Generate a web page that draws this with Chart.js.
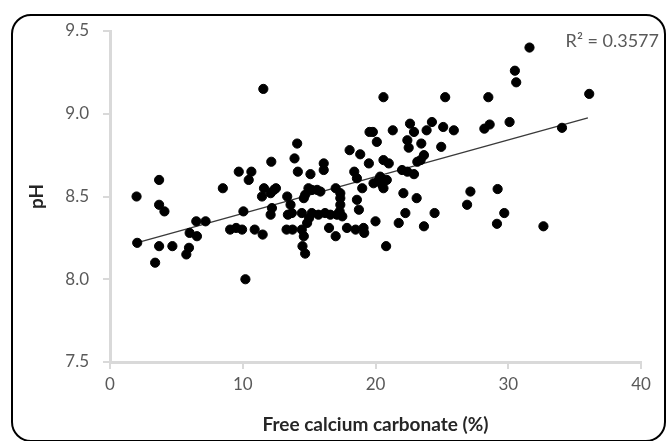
<!DOCTYPE html>
<html>
<head>
<meta charset="utf-8">
<script src="https://cdn.jsdelivr.net/npm/chart.js@4.4.1/dist/chart.umd.min.js"></script>
<style>
  html, body { margin: 0; padding: 0; background: #fff; }
  #wrap { position: relative; width: 668px; height: 441px; overflow: hidden; }
  #frame {
    position: absolute; left: 11px; top: 14px; width: 651px; height: 424px;
    border: 2px solid #000; border-radius: 20px; pointer-events: none;
  }
  canvas { position: absolute; left: 0; top: 0; }
</style>
</head>
<body>
<div id="wrap">
  <div id="frame"></div>
  <canvas id="chart-scatter" width="668" height="441"></canvas>
</div>
<script>
// free calcium carbonate (%) and pH
const carbonate = [
  2.0, 2.05, 3.4, 3.7, 3.7, 4.1, 3.7, 4.7, 6.0, 5.95, 5.75, 6.5, 6.55, 7.2,
  8.5, 9.05, 9.5, 9.95, 9.7, 10.05, 10.2, 10.45, 10.65, 10.9, 11.5, 11.55, 12.15,
  11.45, 11.6, 12.1, 12.35, 12.5, 12.1, 12.2,
  13.35, 13.6, 13.7, 13.4, 13.9, 14.1, 14.15, 14.45, 14.6, 14.7, 14.95, 15.2, 15.6, 15.85,
  15.1, 16.1, 16.1, 15.0, 14.85, 15.2, 15.7, 16.2, 16.6, 17.1, 17.5,
  13.3, 13.75, 14.45, 14.6, 14.5, 14.7, 16.5, 17.0,
  17.0, 17.35, 17.35, 17.35, 17.3, 17.85, 18.5, 19.1, 19.15,
  18.05, 18.85, 18.4, 18.6, 19.0, 18.6, 18.75,
  19.55, 19.5, 19.85, 20.1, 19.8, 20.6, 21.3, 20.6, 21.0,
  20.35, 20.25, 20.85, 20.5, 20.6, 20.0, 20.8, 21.75, 22.1, 22.25, 23.1, 23.65, 24.45,
  22.0, 22.4, 22.9, 23.15, 23.4, 23.65, 22.4, 22.5, 23.45, 24.95,
  22.6, 22.9, 23.85, 24.25, 25.1, 25.9, 25.25,
  27.15, 26.9, 28.5, 28.2, 28.6, 30.1, 30.5, 30.6, 31.6, 36.1, 34.05,
  29.2, 29.7, 29.15, 32.65
];
const pH = [
  8.50, 8.22, 8.10, 8.60, 8.45, 8.41, 8.20, 8.20, 8.28, 8.19, 8.15, 8.35, 8.26, 8.35,
  8.55, 8.30, 8.31, 8.30, 8.65, 8.41, 8.00, 8.60, 8.65, 8.30, 8.27, 9.15, 8.71,
  8.50, 8.55, 8.52, 8.54, 8.55, 8.39, 8.43,
  8.50, 8.45, 8.40, 8.39, 8.73, 8.82, 8.65, 8.40, 8.49, 8.51, 8.55, 8.54, 8.54, 8.53,
  8.635, 8.70, 8.66, 8.37, 8.34, 8.40, 8.39, 8.40, 8.39, 8.39, 8.38,
  8.30, 8.30, 8.30, 8.26, 8.20, 8.155, 8.31, 8.26,
  8.55, 8.52, 8.49, 8.45, 8.41, 8.31, 8.30, 8.31, 8.28,
  8.78, 8.755, 8.65, 8.61, 8.55, 8.48, 8.42,
  8.89, 8.70, 8.58, 8.83, 8.89, 9.10, 8.90, 8.72, 8.70,
  8.62, 8.60, 8.60, 8.57, 8.55, 8.35, 8.20, 8.34, 8.52, 8.40, 8.49, 8.32, 8.40,
  8.66, 8.65, 8.635, 8.71, 8.72, 8.75, 8.84, 8.795, 8.82, 8.80,
  8.94, 8.89, 8.90, 8.95, 8.92, 8.90, 9.10,
  8.53, 8.45, 9.10, 8.91, 8.935, 8.95, 9.26, 9.19, 9.40, 9.12, 8.915,
  8.545, 8.40, 8.335, 8.32
];
// linear trendline ends, as drawn
const trendX = [2, 36];
const trendY = [8.22, 8.975];
const rSquared = 'R\u00b2 = 0.3577';

const xTicks = [0, 10, 20, 30, 40];
const yTicks = [7.5, 8.0, 8.5, 9.0, 9.5];

const points = carbonate.map((x, i) => ({x: x, y: pH[i]}));
const trend = trendX.map((x, i) => ({x: x, y: trendY[i]}));

const gray = '#595959';
const axisGray = '#d9d9d9';
const font = 'Lato, "Open Sans", sans-serif';

// R squared label at the top right
const rLabel = {
  id: 'rLabel',
  afterDraw(chart) {
    const ctx = chart.ctx;
    const area = chart.chartArea;
    ctx.save();
    ctx.font = '18px ' + font;
    ctx.fillStyle = gray;
    ctx.textAlign = 'right';
    ctx.textBaseline = 'middle';
    ctx.fillText(rSquared, area.right + 18, area.top + 10);
    ctx.restore();
  }
};

const ctx = document.getElementById('chart-scatter').getContext('2d');
new Chart(ctx, {
  type: 'scatter',
  data: {
    datasets: [
      {
        label: 'pH',
        data: points,
        backgroundColor: '#000',
        borderColor: '#000',
        pointRadius: 4.6,
        pointHoverRadius: 4.6
      },
      {
        type: 'line',
        label: 'Linear',
        data: trend,
        borderColor: '#3a3a3a',
        borderWidth: 1.4,
        pointRadius: 0,
        fill: false
      }
    ]
  },
  plugins: [rLabel],
  options: {
    responsive: false,
    animation: false,
    layout: {
      padding: {left: 0, top: 31, right: 27, bottom: 0}
    },
    plugins: {
      legend: {display: false},
      tooltip: {enabled: false}
    },
    scales: {
      x: {
        type: 'linear',
        min: 0,
        max: 40,
        afterBuildTicks: (scale) => { scale.ticks = xTicks.map(v => ({value: v})); },
        afterFit: (scale) => { scale.height = 79; },
        grid: {
          drawOnChartArea: false,
          drawTicks: true,
          tickLength: 7,
          color: axisGray,
          lineWidth: 2
        },
        border: {color: axisGray, width: 3},
        ticks: {
          color: gray,
          font: {family: font, size: 17},
          padding: 5
        },
        title: {
          display: true,
          text: 'Free calcium carbonate (%)',
          color: '#262626',
          font: {family: font, size: 19, weight: 'bold'},
          padding: {top: 0, bottom: 5}
        }
      },
      y: {
        type: 'linear',
        min: 7.5,
        max: 9.5,
        afterBuildTicks: (scale) => { scale.ticks = yTicks.map(v => ({value: v})); },
        afterFit: (scale) => { scale.width = 110; },
        grid: {
          drawOnChartArea: false,
          drawTicks: true,
          tickLength: 7,
          color: axisGray,
          lineWidth: 2
        },
        border: {color: axisGray, width: 3},
        ticks: {
          color: gray,
          font: {family: font, size: 17},
          padding: 14,
          callback: (v) => v.toFixed(1)
        },
        title: {
          display: true,
          text: 'pH',
          color: '#262626',
          font: {family: font, size: 19, weight: 'bold'},
          padding: {top: 25, bottom: 0}
        }
      }
    }
  }
});
</script>
</body>
</html>
